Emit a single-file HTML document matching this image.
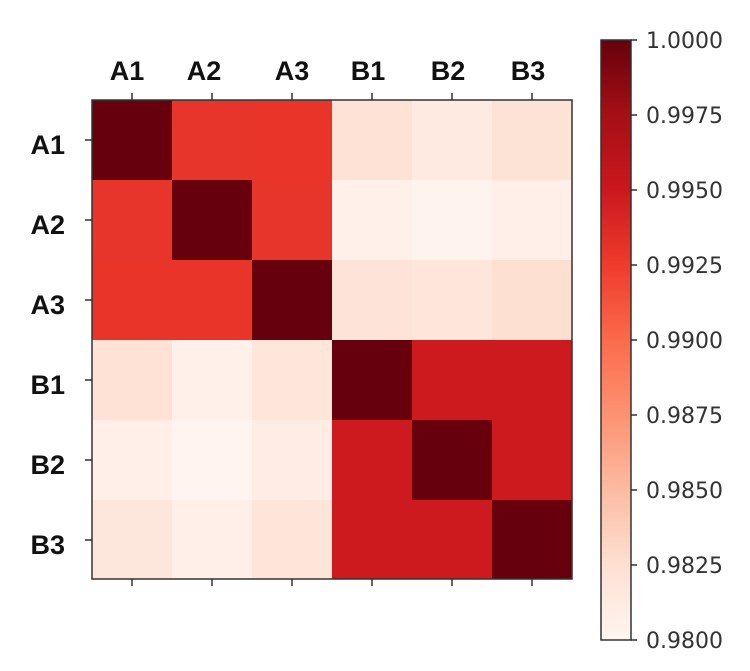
<!DOCTYPE html>
<html><head><meta charset="utf-8"><style>body{margin:0;background:#fff}svg{display:block}</style></head>
<body>
<svg width="750" height="671" xmlns="http://www.w3.org/2000/svg">
<defs>
<linearGradient id="g" x1="0" y1="1" x2="0" y2="0">
<stop offset="0" stop-color="#fff5f0"/><stop offset="0.125" stop-color="#fee0d2"/>
<stop offset="0.25" stop-color="#fcbba1"/><stop offset="0.375" stop-color="#fc9272"/>
<stop offset="0.5" stop-color="#fb6a4a"/><stop offset="0.625" stop-color="#ef3b2c"/>
<stop offset="0.75" stop-color="#cb181d"/><stop offset="0.875" stop-color="#a50f15"/>
<stop offset="1" stop-color="#67000d"/>
</linearGradient>
</defs>
<g shape-rendering="crispEdges">
<rect x="92" y="100" width="80" height="80" fill="#67000d"/><rect x="172" y="100" width="80" height="80" fill="#e8352b"/><rect x="252" y="100" width="80" height="80" fill="#e83429"/><rect x="332" y="100" width="80" height="80" fill="#fee2d6"/><rect x="412" y="100" width="80" height="80" fill="#feeae1"/><rect x="492" y="100" width="80" height="80" fill="#fde2d6"/>
<rect x="92" y="180" width="80" height="80" fill="#e8352b"/><rect x="172" y="180" width="80" height="80" fill="#67000d"/><rect x="252" y="180" width="80" height="80" fill="#e8352b"/><rect x="332" y="180" width="80" height="80" fill="#fff0e9"/><rect x="412" y="180" width="80" height="80" fill="#fff3ee"/><rect x="492" y="180" width="80" height="80" fill="#ffefe8"/>
<rect x="92" y="260" width="80" height="80" fill="#e83429"/><rect x="172" y="260" width="80" height="80" fill="#e83429"/><rect x="252" y="260" width="80" height="80" fill="#67000d"/><rect x="332" y="260" width="80" height="80" fill="#fee4d8"/><rect x="412" y="260" width="80" height="80" fill="#fee6da"/><rect x="492" y="260" width="80" height="80" fill="#fee0d2"/>
<rect x="92" y="340" width="80" height="80" fill="#fee2d6"/><rect x="172" y="340" width="80" height="80" fill="#fff0e9"/><rect x="252" y="340" width="80" height="80" fill="#fee6da"/><rect x="332" y="340" width="80" height="80" fill="#67000d"/><rect x="412" y="340" width="80" height="80" fill="#cc1a1e"/><rect x="492" y="340" width="80" height="80" fill="#cc1a1e"/>
<rect x="92" y="420" width="80" height="80" fill="#ffefe8"/><rect x="172" y="420" width="80" height="80" fill="#fff4ef"/><rect x="252" y="420" width="80" height="80" fill="#ffede5"/><rect x="332" y="420" width="80" height="80" fill="#cc1a1e"/><rect x="412" y="420" width="80" height="80" fill="#67000d"/><rect x="492" y="420" width="80" height="80" fill="#cc1a1e"/>
<rect x="92" y="500" width="80" height="79" fill="#fde6db"/><rect x="172" y="500" width="80" height="79" fill="#ffefe8"/><rect x="252" y="500" width="80" height="79" fill="#fee5d9"/><rect x="332" y="500" width="80" height="79" fill="#cc1a1e"/><rect x="412" y="500" width="80" height="79" fill="#cc1a1e"/><rect x="492" y="500" width="80" height="79" fill="#67000d"/>
</g>
<rect x="92" y="100" width="480" height="479" fill="none" stroke="#333" stroke-width="1.5"/>
<g stroke="#333" stroke-width="1.5">
<line x1="132" y1="100" x2="132" y2="93"/><line x1="212" y1="100" x2="212" y2="93"/><line x1="292" y1="100" x2="292" y2="93"/><line x1="372" y1="100" x2="372" y2="93"/><line x1="452" y1="100" x2="452" y2="93"/><line x1="532" y1="100" x2="532" y2="93"/>
<line x1="132" y1="579" x2="132" y2="586"/><line x1="212" y1="579" x2="212" y2="586"/><line x1="292" y1="579" x2="292" y2="586"/><line x1="372" y1="579" x2="372" y2="586"/><line x1="452" y1="579" x2="452" y2="586"/><line x1="532" y1="579" x2="532" y2="586"/>
<line x1="92" y1="140" x2="85" y2="140"/><line x1="92" y1="220" x2="85" y2="220"/><line x1="92" y1="300" x2="85" y2="300"/><line x1="92" y1="380" x2="85" y2="380"/><line x1="92" y1="460" x2="85" y2="460"/><line x1="92" y1="540" x2="85" y2="540"/>
</g>
<g font-family="Liberation Sans, DejaVu Sans, sans-serif" font-weight="bold" font-size="27" fill="#111" text-anchor="middle">
<text x="127" y="80">A1</text><text x="204" y="80">A2</text><text x="292" y="80">A3</text><text x="368" y="80">B1</text><text x="448" y="80">B2</text><text x="528" y="80">B3</text>
</g>
<g font-family="Liberation Sans, DejaVu Sans, sans-serif" font-weight="bold" font-size="27" fill="#111" text-anchor="end">
<text x="65" y="154">A1</text><text x="65" y="234">A2</text><text x="65" y="314">A3</text><text x="65" y="394">B1</text><text x="65" y="474">B2</text><text x="65" y="554">B3</text>
</g>
<rect x="601" y="40" width="30" height="600" fill="url(#g)" stroke="#333" stroke-width="1.5"/>
<g stroke="#333" stroke-width="1.5">
<line x1="631" y1="40" x2="637" y2="40"/><line x1="631" y1="115" x2="637" y2="115"/><line x1="631" y1="190" x2="637" y2="190"/><line x1="631" y1="265" x2="637" y2="265"/><line x1="631" y1="340" x2="637" y2="340"/><line x1="631" y1="415" x2="637" y2="415"/><line x1="631" y1="490" x2="637" y2="490"/><line x1="631" y1="565" x2="637" y2="565"/><line x1="631" y1="640" x2="637" y2="640"/>
</g>
<g font-family="DejaVu Sans, Liberation Sans, sans-serif" font-size="22" fill="#333">
<text x="646" y="48">1.0000</text><text x="646" y="123">0.9975</text><text x="646" y="198">0.9950</text><text x="646" y="273">0.9925</text><text x="646" y="348">0.9900</text><text x="646" y="423">0.9875</text><text x="646" y="498">0.9850</text><text x="646" y="573">0.9825</text><text x="646" y="648">0.9800</text>
</g>
</svg>
</body></html>
